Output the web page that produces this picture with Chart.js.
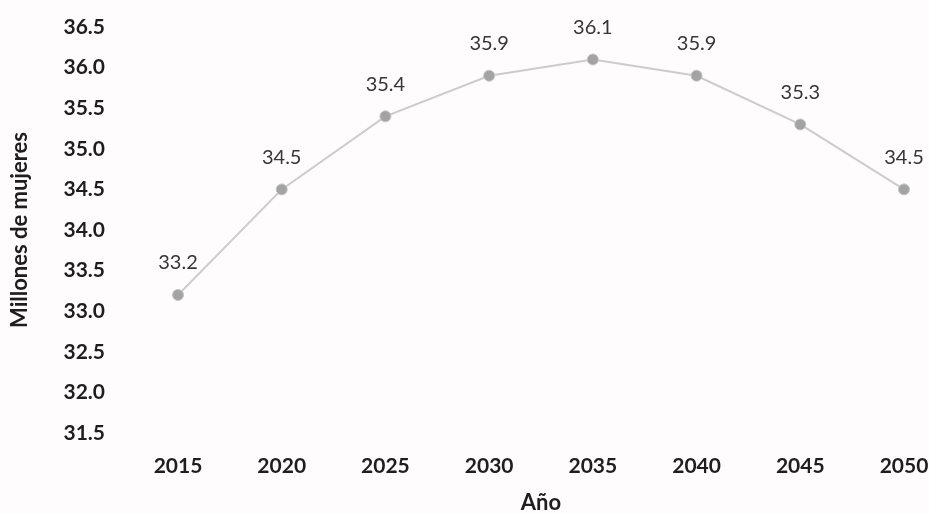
<!DOCTYPE html>
<html>
<head>
<meta charset="utf-8">
<script src="https://cdn.jsdelivr.net/npm/chart.js@4.4.1/dist/chart.umd.min.js"></script>
<style>
  html, body { margin: 0; padding: 0; background: #fefcfd; }
  #wrap { width: 929px; height: 514px; }
</style>
</head>
<body>
<div id="wrap"><canvas id="chart-mujeres" width="929" height="514"></canvas></div>
<script>
const anios = ["2015", "2020", "2025", "2030", "2035", "2040", "2045", "2050"];
const millonesMujeres = [33.2, 34.5, 35.4, 35.9, 36.1, 35.9, 35.3, 34.5];
const ejeYMin = 31.5;
const ejeYMax = 36.5;
const ejeYPaso = 0.5;

const fuente = "Lato, 'Open Sans', sans-serif";

// valor encima de cada punto
const etiquetasValor = {
    id: "etiquetasValor",
    afterDatasetsDraw(chart) {
        const ctx = chart.ctx;
        const meta = chart.getDatasetMeta(0);
        ctx.save();
        ctx.font = "20px " + fuente;
        ctx.fillStyle = "#363636";
        ctx.textAlign = "center";
        ctx.textBaseline = "middle";
        meta.data.forEach((punto, i) => {
            ctx.fillText(millonesMujeres[i].toFixed(1), punto.x, punto.y - 32);
        });
        ctx.restore();
    },
};

const dataMujeres = {
    labels: anios,
    datasets: [
        {
            label: "Millones de mujeres",
            data: millonesMujeres,
            borderColor: "#cccccc",
            borderWidth: 2,
            pointRadius: 5.5,
            pointBackgroundColor: "#a3a3a3",
            pointBorderColor: "#c4c4c4",
            pointBorderWidth: 1,
            tension: 0,
        },
    ],
};

const configMujeres = {
    type: "line",
    data: dataMujeres,
    options: {
        responsive: false,
        animation: false,
        layout: {
            padding: { top: 27, right: 25, bottom: 0, left: 0 },
        },
        plugins: {
            legend: { display: false },
            tooltip: { enabled: false },
        },
        scales: {
            x: {
                offset: false,
                grid: { display: false, drawTicks: false },
                border: { display: false },
                ticks: {
                    padding: 21,
                    color: "#1e1e1e",
                    font: { family: fuente, size: 21, weight: "bold" },
                },
                title: {
                    display: true,
                    text: "Año",
                    color: "#1e1e1e",
                    font: { family: fuente, size: 22, weight: "bold", lineHeight: 1 },
                    padding: { top: 4, bottom: 0 },
                },
                afterFit(scale) {
                    scale.height = 81;
                    scale.paddingLeft = 0;
                    scale.paddingRight = 0;
                },
            },
            y: {
                min: ejeYMin,
                max: ejeYMax,
                grid: { display: false, drawTicks: false },
                border: { display: false },
                ticks: {
                    stepSize: ejeYPaso,
                    padding: 73,
                    color: "#1e1e1e",
                    font: { family: fuente, size: 21, weight: "bold" },
                    callback: (v) => Number(v).toFixed(1),
                },
                title: {
                    display: true,
                    text: "Millones de mujeres",
                    color: "#1e1e1e",
                    font: { family: fuente, size: 22, weight: "bold" },
                    padding: { top: 7, bottom: 4 },
                },
                afterFit(scale) {
                    scale.width = 178;
                    scale.paddingTop = 0;
                    scale.paddingBottom = 0;
                },
            },
        },
    },
    plugins: [etiquetasValor],
};

new Chart(document.getElementById("chart-mujeres"), configMujeres);
</script>
</body>
</html>
